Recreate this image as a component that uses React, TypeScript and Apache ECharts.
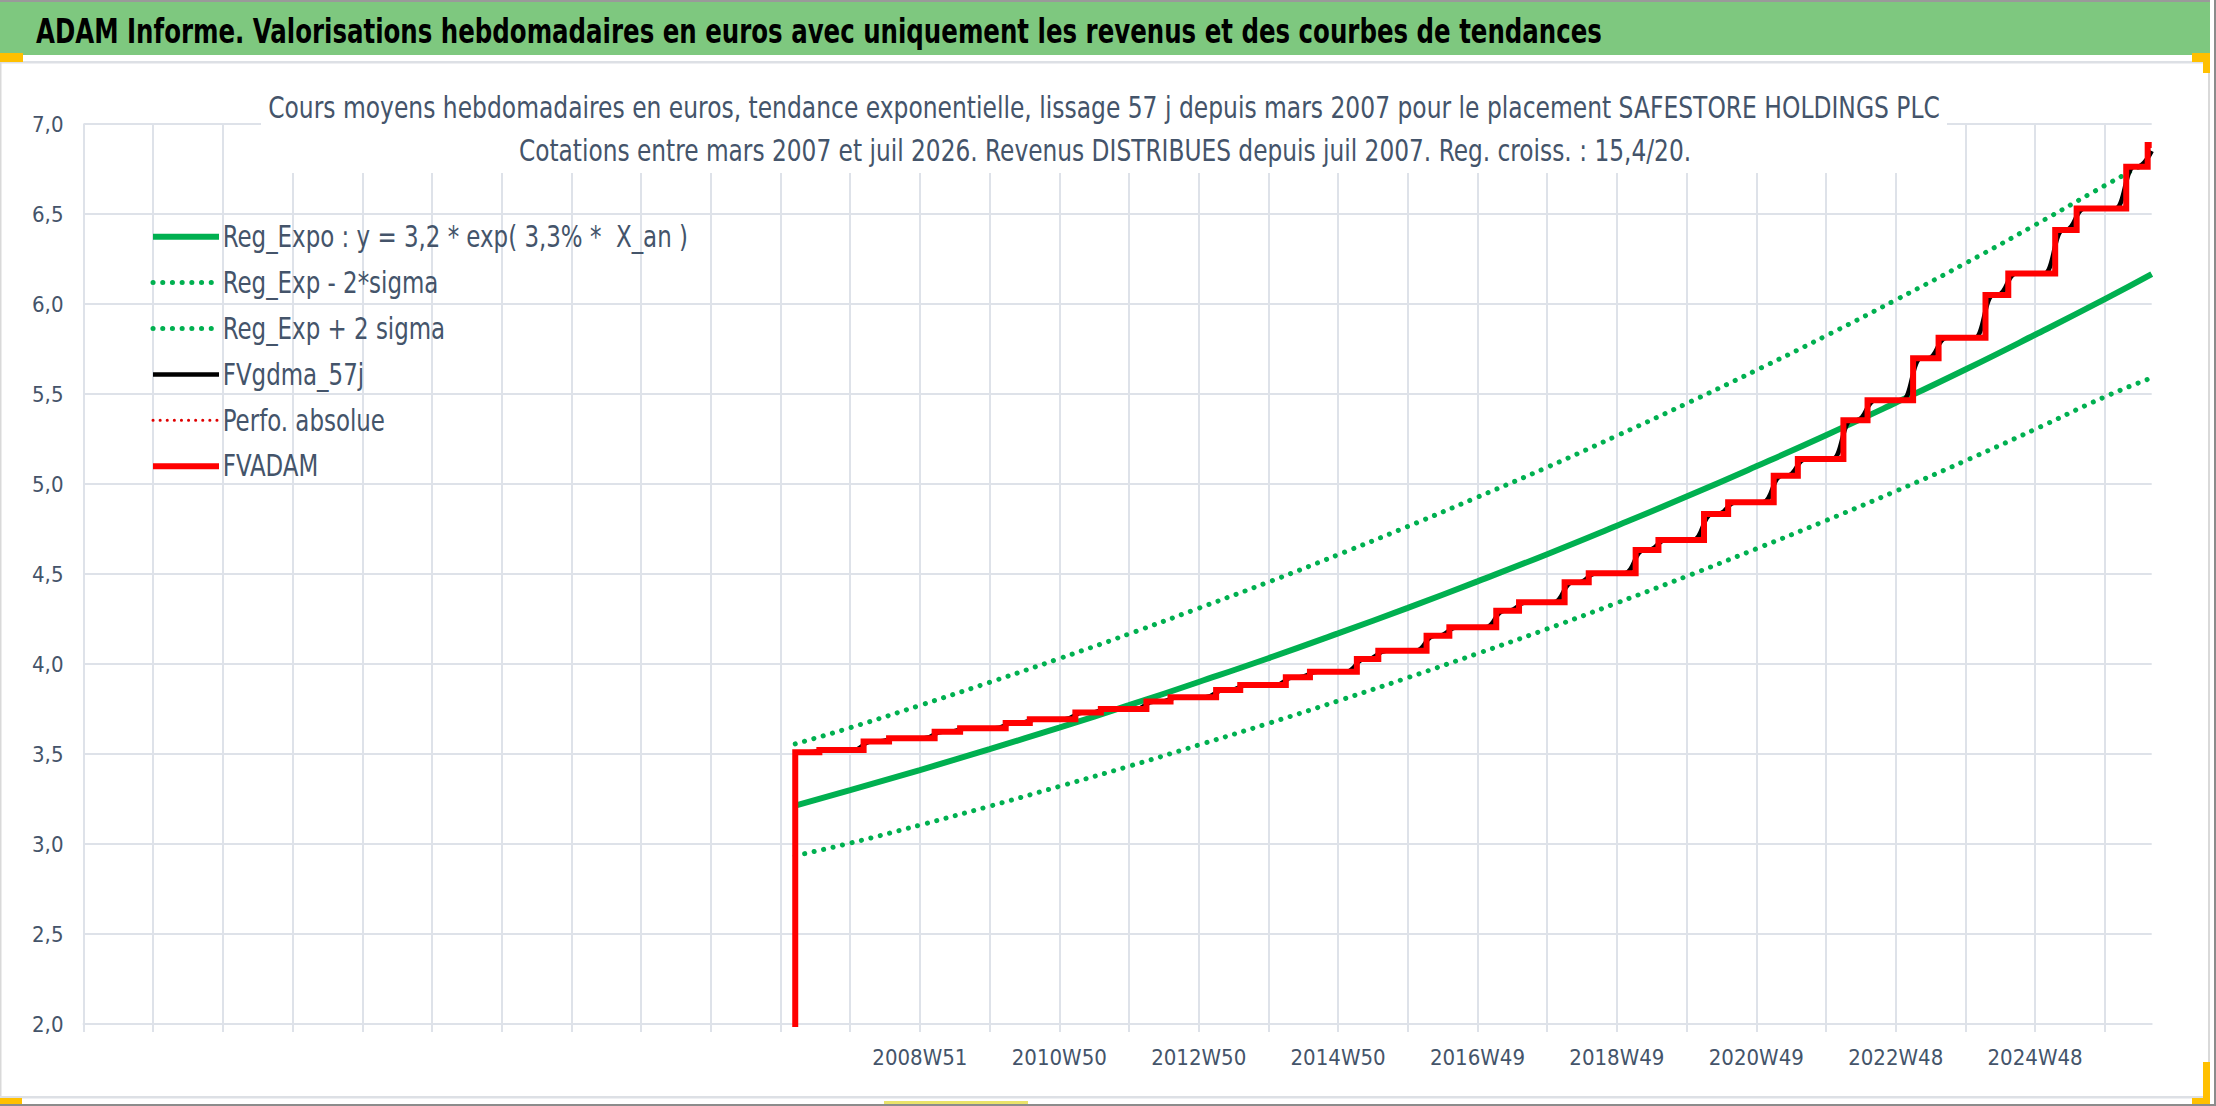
import React, { useEffect, useRef } from "react";
import * as echarts from "echarts";

// ---- Axis labels ----
const X_LABELS = ["2008W51", "2010W50", "2012W50", "2014W50", "2016W49", "2018W49", "2020W49", "2022W48", "2024W48"];
const X_FIRST_LABEL_WEEK = 624; // week index of first label
const WEEKS_TOTAL = 1543;

// ---- Trend curves (read at yearly gridlines, week index) ----
const TREND_WEEKS = [531, 572, 624, 676, 728, 780, 832, 884, 936, 988, 1040, 1092, 1144, 1196, 1248, 1300, 1352, 1404, 1456, 1508, 1543];
const REG_EXPO = [3.213, 3.299, 3.411, 3.527, 3.647, 3.771, 3.9, 4.032, 4.17, 4.312, 4.459, 4.61, 4.768, 4.93, 5.098, 5.271, 5.451, 5.636, 5.829, 6.027, 6.166];
const REG_MINUS = [2.935, 3.005, 3.105, 3.21, 3.32, 3.432, 3.55, 3.67, 3.795, 3.924, 4.058, 4.195, 4.339, 4.487, 4.64, 4.797, 4.96, 5.129, 5.304, 5.484, 5.59];
const REG_PLUS = [3.556, 3.646, 3.77, 3.898, 4.03, 4.167, 4.31, 4.455, 4.607, 4.764, 4.927, 5.093, 5.268, 5.447, 5.632, 5.823, 6.022, 6.226, 6.439, 6.658, 6.8];

// ---- FVADAM (step line: week index, value after each income) ----
const FVADAM_WEEKS = [531, 531, 549, 582, 601, 635, 654, 688, 706, 740, 759, 793, 811, 845, 863, 897, 915, 950, 966, 1002, 1019, 1054, 1071, 1105, 1123, 1158, 1175, 1209, 1227, 1261, 1279, 1313, 1331, 1365, 1384, 1419, 1436, 1471, 1487, 1524, 1540, 1543];
const FVADAM_VALUES = [0, 3.51, 3.522, 3.569, 3.587, 3.624, 3.643, 3.672, 3.693, 3.73, 3.75, 3.791, 3.815, 3.856, 3.883, 3.926, 3.957, 4.028, 4.074, 4.157, 4.204, 4.296, 4.343, 4.454, 4.504, 4.633, 4.689, 4.833, 4.898, 5.046, 5.139, 5.354, 5.465, 5.698, 5.812, 6.05, 6.17, 6.411, 6.531, 6.763, 6.883, 6.883];

// ---- FVgdma_57j (smoothed, week index / value) ----
const FVGDMA_WEEKS = [531, 541, 555, 574, 588, 593, 607, 627, 641, 646, 660, 680, 694, 698, 712, 732, 746, 751, 765, 785, 799, 803, 817, 837, 851, 855, 869, 889, 903, 907, 921, 942, 956, 958, 972, 994, 1008, 1011, 1025, 1046, 1060, 1063, 1077, 1097, 1111, 1115, 1129, 1150, 1164, 1167, 1181, 1201, 1215, 1219, 1233, 1253, 1267, 1271, 1285, 1305, 1319, 1323, 1337, 1357, 1371, 1376, 1390, 1411, 1425, 1428, 1442, 1463, 1477, 1479, 1493, 1516, 1530, 1532, 1543];
const FVGDMA_VALUES = [3.51, 3.51, 3.522, 3.522, 3.569, 3.569, 3.587, 3.587, 3.624, 3.624, 3.643, 3.643, 3.672, 3.672, 3.693, 3.693, 3.73, 3.73, 3.75, 3.75, 3.791, 3.791, 3.815, 3.815, 3.856, 3.856, 3.883, 3.883, 3.926, 3.926, 3.957, 3.957, 4.028, 4.028, 4.074, 4.074, 4.157, 4.157, 4.204, 4.204, 4.296, 4.296, 4.343, 4.343, 4.454, 4.454, 4.504, 4.504, 4.633, 4.633, 4.689, 4.689, 4.833, 4.833, 4.898, 4.898, 5.046, 5.046, 5.139, 5.139, 5.354, 5.354, 5.465, 5.465, 5.698, 5.698, 5.812, 5.812, 6.05, 6.05, 6.17, 6.17, 6.411, 6.411, 6.531, 6.531, 6.763, 6.763, 6.85];

const PERFO_WEEKS: number[] = [];
const PERFO_VALUES: number[] = [];

const SERIES_NAMES = [
  "Reg_Expo : y = 3,2 * exp( 3,3% *  X_an )",
  "Reg_Exp - 2*sigma",
  "Reg_Exp + 2 sigma",
  "FVgdma_57j",
  "Perfo. absolue",
  "FVADAM",
];

const TITLE = "ADAM Informe. Valorisations hebdomadaires en euros avec uniquement les revenus et des courbes de tendances";
const SUB1 = "Cours moyens hebdomadaires en euros, tendance exponentielle, lissage 57 j depuis mars 2007 pour le placement SAFESTORE HOLDINGS PLC";
const SUB2 = "Cotations entre mars 2007 et juil 2026. Revenus DISTRIBUES depuis juil 2007. Reg. croiss. : 15,4/20.";

const NARROW = "'Liberation Sans Narrow', 'Arial Narrow', 'DejaVu Sans Condensed', 'Open Sans', sans-serif";
const TXT = "#44546A";
const GRID = "#DEE2E9";
const GREEN = "#00B050";

const LEGEND_TOP = 236.7; // centre of first legend row
const LEGEND_STEP = 45.9;

const zip = (xs: number[], ys: number[]) => xs.map((x, i) => [x, ys[i]]);

function buildOption() {
  const dotted = (color: string, width: number, gap: number) => ({
    color,
    width,
    type: [0.1, gap],
    cap: "round",
  });
  const legendTexts = SERIES_NAMES.map((name, i) => ({
    type: "text", z: 12, silent: true, x: 222.7, y: LEGEND_TOP + i * LEGEND_STEP, scaleX: 0.85,
    style: {
      text: name, fill: TXT, fontSize: 30, fontFamily: NARROW,
      textAlign: "left", textVerticalAlign: "middle", align: "left", verticalAlign: "middle",
    },
  }));
  return {
    animation: false,
    backgroundColor: "#ffffff",
    grid: { left: 83.5, right: 64.3, top: 124, bottom: 82, containLabel: false },
    legend: {
      orient: "vertical",
      left: 150,
      top: LEGEND_TOP - LEGEND_STEP / 2,
      padding: 0,
      itemGap: 0,
      itemWidth: 66,
      itemHeight: 14,
      data: SERIES_NAMES,
      selectedMode: false,
      formatter: () => " ",
      itemStyle: { opacity: 0 },
      lineStyle: { width: "inherit", type: "inherit", cap: "inherit" },
      textStyle: { fontSize: 10, lineHeight: LEGEND_STEP, color: "transparent" },
    },
    xAxis: {
      type: "value",
      min: 0,
      max: WEEKS_TOTAL,
      interval: 52,
      axisLine: { show: true, lineStyle: { color: GRID, width: 2 } },
      axisTick: { show: true, length: 8, lineStyle: { color: GRID, width: 2 } },
      splitLine: { show: true, showMaxLine: false, lineStyle: { color: GRID, width: 2 } },
      axisLabel: {
        showMaxLabel: false,
        margin: 22,
        color: TXT,
        fontSize: 22,
        fontFamily: NARROW,
        formatter: (v: number) => {
          const k = v - X_FIRST_LABEL_WEEK;
          if (k >= 0 && k % 104 === 0) return X_LABELS[k / 104] ?? "";
          return "";
        },
      },
    },
    yAxis: {
      type: "value",
      min: 2,
      max: 7,
      interval: 0.5,
      axisLine: { show: false },
      axisTick: { show: false },
      splitLine: { show: true, lineStyle: { color: GRID, width: 2 } },
      axisLabel: {
        margin: 20,
        color: TXT,
        fontSize: 22,
        fontFamily: NARROW,
        formatter: (v: number) => v.toFixed(1).replace(".", ","),
      },
    },
    series: [
      {
        name: SERIES_NAMES[0], type: "line", symbol: "none", smooth: true,
        data: zip(TREND_WEEKS, REG_EXPO),
        lineStyle: { color: GREEN, width: 6 }, itemStyle: { color: GREEN },
      },
      {
        name: SERIES_NAMES[1], type: "line", symbol: "none", smooth: true,
        data: zip(TREND_WEEKS, REG_MINUS),
        lineStyle: dotted(GREEN, 5, 9.6), itemStyle: { color: GREEN },
      },
      {
        name: SERIES_NAMES[2], type: "line", symbol: "none", smooth: true,
        data: zip(TREND_WEEKS, REG_PLUS),
        lineStyle: dotted(GREEN, 5, 9.6), itemStyle: { color: GREEN },
      },
      {
        name: SERIES_NAMES[3], type: "line", symbol: "none", smooth: 0.5, smoothMonotone: "x",
        data: zip(FVGDMA_WEEKS, FVGDMA_VALUES),
        lineStyle: { color: "#000000", width: 4.5 }, itemStyle: { color: "#000000" },
      },
      {
        name: SERIES_NAMES[4], type: "line", symbol: "none",
        data: zip(PERFO_WEEKS, PERFO_VALUES),
        lineStyle: dotted("#E00000", 3, 7), itemStyle: { color: "#E00000" },
      },
      {
        name: SERIES_NAMES[5], type: "line", symbol: "none", step: "end",
        data: zip(FVADAM_WEEKS, FVADAM_VALUES),
        lineStyle: { color: "#FF0000", width: 6, join: "miter" }, itemStyle: { color: "#FF0000" },
      },
    ],
    graphic: [
      { type: "rect", z: 10, silent: true, shape: { x: 0, y: 0, width: 2216, height: 2 }, style: { fill: "#9A9A9A" } },
      { type: "rect", z: 10, silent: true, shape: { x: 0, y: 2, width: 2210, height: 53 }, style: { fill: "#7EC87F" } },
      { type: "rect", z: 10, silent: true, shape: { x: 2210, y: 0, width: 6, height: 1106 }, style: { fill: "#FFFFFF" } },
      { type: "rect", z: 10, silent: true, shape: { x: 2214, y: 0, width: 2, height: 1106 }, style: { fill: "#8C8C8C" } },
      { type: "rect", z: 10, silent: true, shape: { x: 2208, y: 60, width: 2, height: 1038 }, style: { fill: "#D9D9D9" } },
      { type: "rect", z: 10, silent: true, shape: { x: 0, y: 61, width: 2210, height: 2.5 }, style: { fill: "#DDE0E5" } },
      { type: "rect", z: 10, silent: true, shape: { x: 0, y: 62, width: 1.5, height: 1036 }, style: { fill: "#D9D9D9" } },
      { type: "rect", z: 10, silent: true, shape: { x: 0, y: 1096, width: 2210, height: 2.5 }, style: { fill: "#DDE0E5" } },
      { type: "rect", z: 10, silent: true, shape: { x: 0, y: 1104, width: 2216, height: 2 }, style: { fill: "#8C8C8C" } },
      { type: "rect", z: 11, silent: true, shape: { x: 0, y: 53, width: 23, height: 9 }, style: { fill: "#FFC000" } },
      { type: "rect", z: 11, silent: true, shape: { x: 2192, y: 53, width: 18, height: 9 }, style: { fill: "#FFC000" } },
      { type: "rect", z: 11, silent: true, shape: { x: 2203, y: 53, width: 7, height: 20 }, style: { fill: "#FFC000" } },
      { type: "rect", z: 11, silent: true, shape: { x: 0, y: 1098, width: 22, height: 6 }, style: { fill: "#FFC000" } },
      { type: "rect", z: 11, silent: true, shape: { x: 2192, y: 1098, width: 18, height: 6 }, style: { fill: "#FFC000" } },
      { type: "rect", z: 11, silent: true, shape: { x: 2203, y: 1062, width: 7, height: 42 }, style: { fill: "#FFC000" } },
      { type: "rect", z: 11, silent: true, shape: { x: 884, y: 1101, width: 144, height: 3 }, style: { fill: "#EAE36A" } },
      {
        type: "text", z: 12, silent: true, x: 36, y: 31, scaleX: 0.8,
        style: {
          text: TITLE, fill: "#000000", fontSize: 34, fontWeight: "bold", fontFamily: NARROW,
          textAlign: "left", textVerticalAlign: "middle", align: "left", verticalAlign: "middle",
        },
      },
      { type: "rect", z: 10, silent: true, shape: { x: 261, y: 90, width: 1686, height: 83 }, style: { fill: "#FFFFFF" } },
      {
        type: "text", z: 12, silent: true, x: 1104, y: 108, scaleX: 0.868,
        style: {
          text: SUB1, fill: TXT, fontSize: 30, fontFamily: NARROW,
          textAlign: "center", textVerticalAlign: "middle", align: "center", verticalAlign: "middle",
        },
      },
      {
        type: "text", z: 12, silent: true, x: 1105, y: 151, scaleX: 0.863,
        style: {
          text: SUB2, fill: TXT, fontSize: 30, fontFamily: NARROW,
          textAlign: "center", textVerticalAlign: "middle", align: "center", verticalAlign: "middle",
        },
      },
      ...legendTexts,
    ],
  };
}

export default function App() {
  const ref = useRef<HTMLDivElement>(null);
  useEffect(() => {
    if (!ref.current) return;
    const chart = echarts.init(ref.current, null, { renderer: "svg" });
    chart.setOption(buildOption() as any);
    return () => chart.dispose();
  }, []);
  return (
    <div
      ref={ref}
      style={{ position: "fixed", left: 0, top: 0, width: 2216, height: 1106, background: "#ffffff" }}
    />
  );
}
